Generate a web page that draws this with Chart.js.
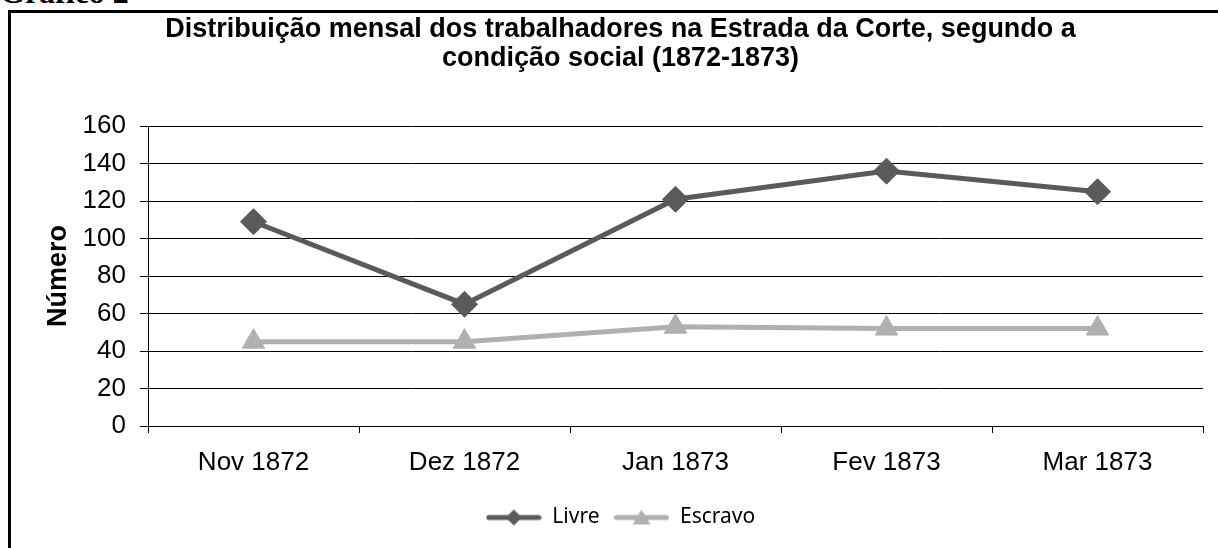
<!DOCTYPE html>
<html>
<head>
<meta charset="utf-8">
<script src="https://cdn.jsdelivr.net/npm/chart.js@4"></script>
<style>
  html, body { margin: 0; padding: 0; background: #fff; width: 1218px; height: 548px; overflow: hidden; }
  #heading {
    position: absolute; left: 0; top: -24px;
    font-family: "Liberation Serif", "Times New Roman", serif;
    font-weight: bold; font-size: 32px; color: #000; line-height: 32px;
  }
  #frame {
    position: absolute; left: 8px; top: 10px; width: 1300px; height: 600px;
    border-left: 3px solid #000; border-top: 3px solid #000;
  }
  #chart { position: absolute; left: 0; top: 0; }
</style>
</head>
<body>
<div id="heading">Gráfico 2</div>
<div id="frame"></div>
<canvas id="chart" width="1218" height="548"></canvas>
<script>
// Chart data
const months = ['Nov 1872', 'Dez 1872', 'Jan 1873', 'Fev 1873', 'Mar 1873'];
const livre = [109, 65, 121, 136, 125];
const escravo = [45, 45, 53, 52, 52];
const yTicks = [0, 20, 40, 60, 80, 100, 120, 140, 160];

const livreColor = '#5a5a5a';
const escravoColor = '#b0b0b0';

// Legend symbol: short line with the marker in the middle
function legendSymbol(color, style) {
    const c = document.createElement('canvas');
    c.width = 56;
    c.height = 24;
    const g = c.getContext('2d');
    g.strokeStyle = color;
    g.fillStyle = color;
    g.lineWidth = 5;
    g.lineCap = 'round';
    g.beginPath();
    g.moveTo(3, 12);
    g.lineTo(53, 12);
    g.stroke();
    g.beginPath();
    if (style === 'diamond') {
        g.moveTo(28, 4); g.lineTo(36, 12); g.lineTo(28, 20); g.lineTo(20, 12);
    } else {
        g.moveTo(28, 4); g.lineTo(37, 19); g.lineTo(19, 19);
    }
    g.closePath();
    g.fill();
    return c;
}
const symbols = [legendSymbol(livreColor, 'diamond'), legendSymbol(escravoColor, 'triangle')];

const ctx = document.getElementById('chart').getContext('2d');
new Chart(ctx, {
    type: 'line',
    data: {
        labels: months,
        datasets: [
            {
                label: 'Livre',
                data: livre,
                borderColor: livreColor,
                backgroundColor: livreColor,
                borderWidth: 5,
                pointStyle: 'rectRot',
                pointRadius: 13,
                pointBorderWidth: 1,
                tension: 0,
            },
            {
                label: 'Escravo',
                data: escravo,
                borderColor: escravoColor,
                backgroundColor: escravoColor,
                borderWidth: 5,
                pointStyle: 'triangle',
                pointRadius: 13,
                pointBorderWidth: 1,
                tension: 0,
            },
        ],
    },
    options: {
        responsive: false,
        animation: false,
        layout: { padding: { left: 38, right: 15, top: 12, bottom: 10 } },
        plugins: {
            title: {
                display: true,
                text: ['Distribuição mensal dos trabalhadores na Estrada da Corte, segundo a', 'condição social (1872-1873)'],
                color: '#000',
                font: { family: '"Liberation Sans", Arial, sans-serif', size: 27, weight: 'bold', lineHeight: 1.04 },
                padding: { top: 4, bottom: 54 },
            },
            legend: {
                position: 'bottom',
                labels: {
                    usePointStyle: true,
                    pointStyleWidth: 56,
                    color: '#000',
                    padding: 14,
                    font: { family: '"Noto Sans", sans-serif', size: 21 },
                    generateLabels: function (chart) {
                        const items = Chart.defaults.plugins.legend.labels.generateLabels(chart);
                        items.forEach((it, i) => { it.pointStyle = symbols[i]; });
                        return items;
                    },
                },
            },
            tooltip: { enabled: false },
        },
        scales: {
            x: {
                offset: true,
                grid: { offset: true, drawOnChartArea: false, drawTicks: true, tickLength: 7, color: '#000' },
                border: { color: '#000', width: 1 },
                ticks: { color: '#000', padding: 14, font: { family: '"Liberation Sans", Arial, sans-serif', size: 26 } },
                afterFit: function (scale) { scale.height = 67; },
            },
            y: {
                min: 0,
                max: 160,
                afterBuildTicks: function (scale) { scale.ticks = yTicks.map(v => ({ value: v })); },
                grid: { color: '#000', tickLength: 8 },
                border: { color: '#000', width: 1 },
                ticks: { color: '#000', padding: 14, font: { family: '"Liberation Sans", Arial, sans-serif', size: 26 } },
                title: {
                    display: true,
                    text: 'Número',
                    color: '#000',
                    font: { family: '"Liberation Sans", Arial, sans-serif', size: 27, weight: 'bold' },
                    padding: { top: 4, bottom: 4 },
                },
                afterFit: function (scale) { scale.width = 110; },
            },
        },
    },
});
</script>
</body>
</html>
